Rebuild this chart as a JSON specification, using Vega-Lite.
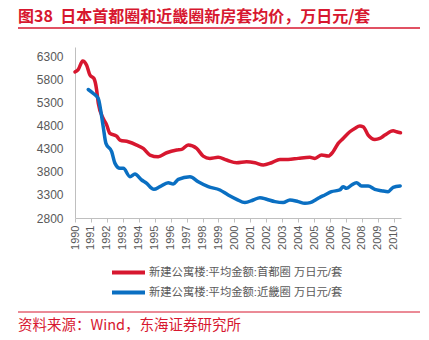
{
  "$schema": "https://vega.github.io/schema/vega-lite/v6.json",
  "autosize": "none",
  "width": 326,
  "height": 171,
  "padding": {"left": 75, "top": 47, "right": 28, "bottom": 122},
  "background": "white",
  "config": {
    "view": {"stroke": null},
    "font": "Liberation Sans, Noto Sans CJK SC"
  },
  "title": {
    "text": "图38\u00a0\u00a0日本首都圈和近畿圈新房套均价，万日元/套",
    "anchor": "start",
    "frame": "group",
    "dx": -57,
    "dy": 18,
    "offset": 7,
    "baseline": "alphabetic",
    "font": "Noto Sans CJK SC",
    "fontSize": 16,
    "fontWeight": "bold",
    "color": "#d7172f"
  },
  "datasets": {
    "prices": [
      {"year": 1990.0, "value": 5961, "series": "新建公寓楼:平均金额:首都圈 万日元/套"},
      {"year": 1990.2, "value": 6010, "series": "新建公寓楼:平均金额:首都圈 万日元/套"},
      {"year": 1990.48, "value": 6199, "series": "新建公寓楼:平均金额:首都圈 万日元/套"},
      {"year": 1990.73, "value": 6106, "series": "新建公寓楼:平均金额:首都圈 万日元/套"},
      {"year": 1990.94, "value": 5890, "series": "新建公寓楼:平均金额:首都圈 万日元/套"},
      {"year": 1991.19, "value": 5818, "series": "新建公寓楼:平均金额:首都圈 万日元/套"},
      {"year": 1991.36, "value": 5566, "series": "新建公寓楼:平均金额:首都圈 万日元/套"},
      {"year": 1991.46, "value": 5285, "series": "新建公寓楼:平均金额:首都圈 万日元/套"},
      {"year": 1991.77, "value": 4954, "series": "新建公寓楼:平均金额:首都圈 万日元/套"},
      {"year": 1991.99, "value": 4810, "series": "新建公寓楼:平均金额:首都圈 万日元/套"},
      {"year": 1992.19, "value": 4630, "series": "新建公寓楼:平均金额:首都圈 万日元/套"},
      {"year": 1992.61, "value": 4572, "series": "新建公寓楼:平均金额:首都圈 万日元/套"},
      {"year": 1992.82, "value": 4486, "series": "新建公寓楼:平均金额:首都圈 万日元/套"},
      {"year": 1993.34, "value": 4450, "series": "新建公寓楼:平均金额:首都圈 万日元/套"},
      {"year": 1993.87, "value": 4378, "series": "新建公寓楼:平均金额:首都圈 万日元/套"},
      {"year": 1994.28, "value": 4306, "series": "新建公寓楼:平均金额:首都圈 万日元/套"},
      {"year": 1994.7, "value": 4162, "series": "新建公寓楼:平均金额:首都圈 万日元/套"},
      {"year": 1995.22, "value": 4125, "series": "新建公寓楼:平均金额:首都圈 万日元/套"},
      {"year": 1995.75, "value": 4212, "series": "新建公寓楼:平均金额:首都圈 万日元/套"},
      {"year": 1996.38, "value": 4270, "series": "新建公寓楼:平均金额:首都圈 万日元/套"},
      {"year": 1996.69, "value": 4285, "series": "新建公寓楼:平均金额:首都圈 万日元/套"},
      {"year": 1997.1, "value": 4378, "series": "新建公寓楼:平均金额:首都圈 万日元/套"},
      {"year": 1997.63, "value": 4306, "series": "新建公寓楼:平均金额:首都圈 万日元/套"},
      {"year": 1998.04, "value": 4140, "series": "新建公寓楼:平均金额:首都圈 万日元/套"},
      {"year": 1998.46, "value": 4090, "series": "新建公寓楼:平均金额:首都圈 万日元/套"},
      {"year": 1998.98, "value": 4112, "series": "新建公寓楼:平均金额:首都圈 万日元/套"},
      {"year": 1999.51, "value": 4054, "series": "新建公寓楼:平均金额:首都圈 万日元/套"},
      {"year": 2000.14, "value": 3996, "series": "新建公寓楼:平均金额:首都圈 万日元/套"},
      {"year": 2000.76, "value": 4018, "series": "新建公寓楼:平均金额:首都圈 万日元/套"},
      {"year": 2001.29, "value": 3996, "series": "新建公寓楼:平均金额:首都圈 万日元/套"},
      {"year": 2001.81, "value": 3946, "series": "新建公寓楼:平均金额:首都圈 万日元/套"},
      {"year": 2002.33, "value": 3996, "series": "新建公寓楼:平均金额:首都圈 万日元/套"},
      {"year": 2002.85, "value": 4068, "series": "新建公寓楼:平均金额:首都圈 万日元/套"},
      {"year": 2003.37, "value": 4068, "series": "新建公寓楼:平均金额:首都圈 万日元/套"},
      {"year": 2004.0, "value": 4090, "series": "新建公寓楼:平均金额:首都圈 万日元/套"},
      {"year": 2004.73, "value": 4112, "series": "新建公寓楼:平均金额:首都圈 万日元/套"},
      {"year": 2005.05, "value": 4090, "series": "新建公寓楼:平均金额:首都圈 万日元/套"},
      {"year": 2005.47, "value": 4162, "series": "新建公寓楼:平均金额:首都圈 万日元/套"},
      {"year": 2005.88, "value": 4140, "series": "新建公寓楼:平均金额:首都圈 万日元/套"},
      {"year": 2006.19, "value": 4234, "series": "新建公寓楼:平均金额:首都圈 万日元/套"},
      {"year": 2006.51, "value": 4414, "series": "新建公寓楼:平均金额:首都圈 万日元/套"},
      {"year": 2006.82, "value": 4522, "series": "新建公寓楼:平均金额:首都圈 万日元/套"},
      {"year": 2007.24, "value": 4666, "series": "新建公寓楼:平均金额:首都圈 万日元/套"},
      {"year": 2007.55, "value": 4738, "series": "新建公寓楼:平均金额:首都圈 万日元/套"},
      {"year": 2007.87, "value": 4788, "series": "新建公寓楼:平均金额:首都圈 万日元/套"},
      {"year": 2008.08, "value": 4773, "series": "新建公寓楼:平均金额:首都圈 万日元/套"},
      {"year": 2008.39, "value": 4594, "series": "新建公寓楼:平均金额:首都圈 万日元/套"},
      {"year": 2008.81, "value": 4500, "series": "新建公寓楼:平均金额:首都圈 万日元/套"},
      {"year": 2009.12, "value": 4522, "series": "新建公寓楼:平均金额:首都圈 万日元/套"},
      {"year": 2009.44, "value": 4594, "series": "新建公寓楼:平均金额:首都圈 万日元/套"},
      {"year": 2009.96, "value": 4687, "series": "新建公寓楼:平均金额:首都圈 万日元/套"},
      {"year": 2010.17, "value": 4666, "series": "新建公寓楼:平均金额:首都圈 万日元/套"},
      {"year": 2010.42, "value": 4644, "series": "新建公寓楼:平均金额:首都圈 万日元/套"},
      {"year": 1990.83, "value": 5580, "series": "新建公寓楼:平均金额:近畿圈 万日元/套"},
      {"year": 1991.15, "value": 5494, "series": "新建公寓楼:平均金额:近畿圈 万日元/套"},
      {"year": 1991.46, "value": 5386, "series": "新建公寓楼:平均金额:近畿圈 万日元/套"},
      {"year": 1991.61, "value": 5134, "series": "新建公寓楼:平均金额:近畿圈 万日元/套"},
      {"year": 1991.77, "value": 4773, "series": "新建公寓楼:平均金额:近畿圈 万日元/套"},
      {"year": 1991.94, "value": 4414, "series": "新建公寓楼:平均金额:近畿圈 万日元/套"},
      {"year": 1992.3, "value": 4234, "series": "新建公寓楼:平均金额:近畿圈 万日元/套"},
      {"year": 1992.51, "value": 3982, "series": "新建公寓楼:平均金额:近畿圈 万日元/套"},
      {"year": 1992.82, "value": 3874, "series": "新建公寓楼:平均金额:近畿圈 万日元/套"},
      {"year": 1993.03, "value": 3874, "series": "新建公寓楼:平均金额:近畿圈 万日元/套"},
      {"year": 1993.45, "value": 3694, "series": "新建公寓楼:平均金额:近畿圈 万日元/套"},
      {"year": 1993.76, "value": 3751, "series": "新建公寓楼:平均金额:近畿圈 万日元/套"},
      {"year": 1994.18, "value": 3622, "series": "新建公寓楼:平均金额:近畿圈 万日元/套"},
      {"year": 1994.5, "value": 3550, "series": "新建公寓楼:平均金额:近畿圈 万日元/套"},
      {"year": 1994.81, "value": 3442, "series": "新建公寓楼:平均金额:近畿圈 万日元/套"},
      {"year": 1994.95, "value": 3420, "series": "新建公寓楼:平均金额:近畿圈 万日元/套"},
      {"year": 1995.33, "value": 3478, "series": "新建公寓楼:平均金额:近畿圈 万日元/套"},
      {"year": 1995.85, "value": 3564, "series": "新建公寓楼:平均金额:近畿圈 万日元/套"},
      {"year": 1996.16, "value": 3535, "series": "新建公寓楼:平均金额:近畿圈 万日元/套"},
      {"year": 1996.48, "value": 3636, "series": "新建公寓楼:平均金额:近畿圈 万日元/套"},
      {"year": 1997.21, "value": 3694, "series": "新建公寓楼:平均金额:近畿圈 万日元/套"},
      {"year": 1997.73, "value": 3586, "series": "新建公寓楼:平均金额:近畿圈 万日元/套"},
      {"year": 1998.36, "value": 3478, "series": "新建公寓楼:平均金额:近畿圈 万日元/套"},
      {"year": 1999.09, "value": 3406, "series": "新建公寓楼:平均金额:近畿圈 万日元/套"},
      {"year": 1999.61, "value": 3298, "series": "新建公寓楼:平均金额:近畿圈 万日元/套"},
      {"year": 2000.14, "value": 3205, "series": "新建公寓楼:平均金额:近畿圈 万日元/套"},
      {"year": 2000.66, "value": 3133, "series": "新建公寓楼:平均金额:近畿圈 万日元/套"},
      {"year": 2001.18, "value": 3190, "series": "新建公寓楼:平均金额:近畿圈 万日元/套"},
      {"year": 2001.6, "value": 3240, "series": "新建公寓楼:平均金额:近畿圈 万日元/套"},
      {"year": 2002.02, "value": 3205, "series": "新建公寓楼:平均金额:近畿圈 万日元/套"},
      {"year": 2002.54, "value": 3154, "series": "新建公寓楼:平均金额:近畿圈 万日元/套"},
      {"year": 2003.06, "value": 3133, "series": "新建公寓楼:平均金额:近畿圈 万日元/套"},
      {"year": 2003.48, "value": 3190, "series": "新建公寓楼:平均金额:近畿圈 万日元/套"},
      {"year": 2004.0, "value": 3154, "series": "新建公寓楼:平均金额:近畿圈 万日元/套"},
      {"year": 2004.42, "value": 3118, "series": "新建公寓楼:平均金额:近畿圈 万日元/套"},
      {"year": 2004.75, "value": 3133, "series": "新建公寓楼:平均金额:近畿圈 万日元/套"},
      {"year": 2005.15, "value": 3205, "series": "新建公寓楼:平均金额:近畿圈 万日元/套"},
      {"year": 2005.32, "value": 3240, "series": "新建公寓楼:平均金额:近畿圈 万日元/套"},
      {"year": 2005.67, "value": 3298, "series": "新建公寓楼:平均金额:近畿圈 万日元/套"},
      {"year": 2006.09, "value": 3370, "series": "新建公寓楼:平均金额:近畿圈 万日元/套"},
      {"year": 2006.61, "value": 3406, "series": "新建公寓楼:平均金额:近畿圈 万日元/套"},
      {"year": 2006.82, "value": 3478, "series": "新建公寓楼:平均金额:近畿圈 万日元/套"},
      {"year": 2007.03, "value": 3442, "series": "新建公寓楼:平均金额:近畿圈 万日元/套"},
      {"year": 2007.35, "value": 3514, "series": "新建公寓楼:平均金额:近畿圈 万日元/套"},
      {"year": 2007.66, "value": 3564, "series": "新建公寓楼:平均金额:近畿圈 万日元/套"},
      {"year": 2007.97, "value": 3492, "series": "新建公寓楼:平均金额:近畿圈 万日元/套"},
      {"year": 2008.39, "value": 3492, "series": "新建公寓楼:平均金额:近畿圈 万日元/套"},
      {"year": 2008.81, "value": 3420, "series": "新建公寓楼:平均金额:近畿圈 万日元/套"},
      {"year": 2009.23, "value": 3391, "series": "新建公寓楼:平均金额:近畿圈 万日元/套"},
      {"year": 2009.64, "value": 3370, "series": "新建公寓楼:平均金额:近畿圈 万日元/套"},
      {"year": 2009.96, "value": 3463, "series": "新建公寓楼:平均金额:近畿圈 万日元/套"},
      {"year": 2010.4, "value": 3492, "series": "新建公寓楼:平均金额:近畿圈 万日元/套"}
    ],
    "deco": [{"source": "资料来源：Wind，东海证券研究所"}]
  },
  "layer": [
    {
      "data": {"name": "prices"},
      "mark": {"type": "line", "strokeWidth": 3.5, "interpolate": "monotone", "strokeCap": "round", "strokeJoin": "round"},
      "encoding": {
        "x": {
          "field": "year", "type": "quantitative",
          "scale": {"domain": [1990, 2010.45], "nice": false, "zero": false},
          "axis": {
            "title": null,
            "values": [1990,1991,1992,1993,1994,1995,1996,1997,1998,1999,2000,2001,2002,2003,2004,2005,2006,2007,2008,2009,2010],
            "format": "d",
            "labelAngle": -90,
            "labelFontSize": 11,
            "labelColor": "#595959",
            "labelPadding": 3,
            "tickSize": 4,
            "tickColor": "#bfbfbf",
            "domainColor": "#bfbfbf",
            "grid": false,
            "labelOverlap": false,
            "labelFlush": false
          }
        },
        "y": {
          "field": "value", "type": "quantitative",
          "scale": {"domain": [2800, 6500], "nice": false, "zero": false},
          "axis": {
            "title": null,
            "values": [2800,3300,3800,4300,4800,5300,5800,6300],
            "format": "d",
            "labelFontSize": 12,
            "labelColor": "#595959",
            "labelPadding": 12,
            "ticks": false,
            "domainColor": "#bfbfbf",
            "grid": false
          }
        },
        "color": {
          "field": "series", "type": "nominal",
          "scale": {
            "domain": ["新建公寓楼:平均金额:首都圈 万日元/套", "新建公寓楼:平均金额:近畿圈 万日元/套"],
            "range": ["#d7172f", "#0a6fc2"]
          },
          "legend": {
            "title": null,
            "orient": "none",
            "legendX": 35,
            "legendY": 218,
            "direction": "vertical",
            "symbolType": "M-1,0H5",
            "symbolSize": 121,
            "symbolStrokeWidth": 4,
            "labelOffset": 24,
            "labelFontSize": 11.3,
            "labelColor": "#595959",
            "labelLimit": 400,
            "rowPadding": 3
          }
        }
      }
    },
    {
      "data": {"name": "deco"},
      "mark": {"type": "rule", "color": "#d7172f", "strokeWidth": 1.5},
      "encoding": {"x": {"value": -57}, "x2": {"value": 345}, "y": {"value": -19}}
    },
    {
      "data": {"name": "deco"},
      "mark": {"type": "rule", "color": "#d7172f", "strokeWidth": 1},
      "encoding": {"x": {"value": -57}, "x2": {"value": 345}, "y": {"value": 265}}
    },
    {
      "data": {"name": "deco"},
      "mark": {"type": "text", "align": "left", "baseline": "alphabetic", "fontSize": 14.5, "color": "#d7172f", "font": "Noto Sans CJK SC"},
      "encoding": {"x": {"value": -57}, "y": {"value": 283}, "text": {"field": "source"}}
    }
  ]
}
